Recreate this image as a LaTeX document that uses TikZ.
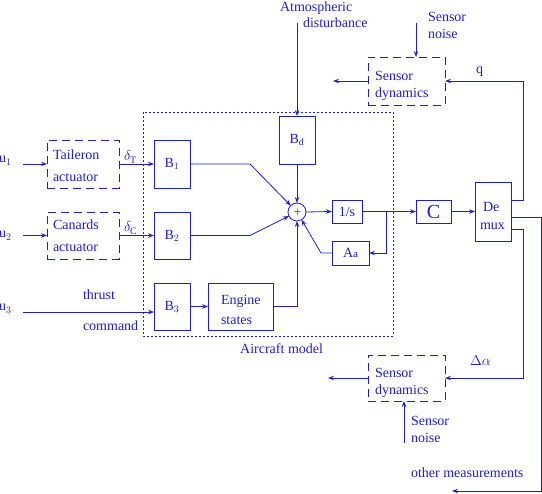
\documentclass[tikz,border=0pt]{standalone}
\usepackage{fontspec}
\setmainfont{Liberation Serif}
\usetikzlibrary{arrows.meta}
\definecolor{fig}{RGB}{30,30,205}
\begin{document}
\begin{tikzpicture}[x=1pt,y=-1pt,
  every node/.style={text=fig,font=\fontsize{14}{16}\selectfont,inner sep=0pt,outer sep=0pt},
  box/.style={draw=fig,line width=0.8pt,minimum width=#1},
  dbox/.style={draw=fig,line width=0.8pt,dash pattern=on 8pt off 5pt,minimum width=#1},
  lbl/.style={anchor=base west},
  wire/.style={draw=fig,line width=0.8pt},
  arr/.style={wire,-{Stealth[open,length=6pt,width=4.5pt]}}]
\useasboundingbox (0,0) rectangle (542,494);
% aircraft model dotted frame
\draw[fig,line width=0.8pt,dash pattern=on 1.6pt off 2.4pt] (143,112) rectangle (393,336);
\node[lbl,anchor=base east] (model) at (323,354) {Aircraft model};
% actuators
\node[dbox=72pt,minimum height=48pt] (tail) at (83,164) {};
\node[dbox=72pt,minimum height=47pt] (can) at (83,235.5) {};
\node[lbl] (tailA) at (53,160) {Taileron};
\node[lbl] (tailB) at (53,182) {actuator};
\node[lbl] (canA) at (53,230) {Canards};
\node[lbl] (canB) at (53,252) {actuator};
% inputs
\node[lbl] (u1) at (-1,163) {u$_1$};
\node[lbl] (u2) at (-1,238) {u$_2$};
\node[lbl] (u3) at (-1,311) {u$_3$};
\coordinate (c1) at (23,164);
\coordinate (c2) at (23,235.5);
\coordinate (c3) at (23,312);
\node[lbl] (thr) at (83,300) {thrust};
\node[lbl] (cmd) at (83,331) {command};
\node[lbl] (dT) at (124,161) {$\delta_{\mathrm T}$};
\node[lbl] (dC) at (124,232) {$\delta_{\mathrm C}$};
% B blocks
\node[box=36pt,minimum height=48pt] (B1) at (172,164) {B$_1$};
\node[box=36pt,minimum height=47pt] (B2) at (172,235.5) {B$_2$};
\node[box=36pt,minimum height=47pt] (B3) at (172,306.5) {B$_3$};
\node[box=65pt,minimum height=47pt] (eng) at (240.5,306.5) {};
\node[lbl] (engA) at (221,305) {Engine};
\node[lbl] (engB) at (221,325) {states};
\node[box=36pt,minimum height=48pt] (Bd) at (297,140) {B$_{\mathrm d}$};
\node[lbl] (atA) at (280,11.5) {Atmospheric};
\node[lbl] (atB) at (303,28) {disturbance};
\coordinate (at) at (297,23);
% summing junction
\node[draw=fig,line width=0.8pt,circle,minimum size=18pt] (sum) at (297,212) {};
\node[font=\fontsize{13}{14}\selectfont] (plus) at (297.5,212.5) {+};
\node[box=30pt,minimum height=23pt] (inv) at (347,211.5) {1/s};
\node[box=35pt,minimum height=23pt,font=\fontsize{20}{22}\selectfont] (C) at (433.5,211.5) {C};
\node[box=37pt,minimum height=24pt] (Aa) at (350.5,253) {A{\fontsize{11}{12}\selectfont a}};
\node[box=36pt,minimum height=59pt] (dmx) at (493,211.5) {};
\node[lbl] (dmA) at (483,212) {De};
\node[lbl] (dmB) at (480,230) {mux};
% sensors
\node[dbox=77pt,minimum height=48pt] (sd1) at (406.5,81) {};
\node[lbl] (sd1A) at (375,81) {Sensor};
\node[lbl] (sd1B) at (375,98) {dynamics};
\node[lbl] (sn1A) at (428,22) {Sensor};
\node[lbl] (sn1B) at (428,39) {noise};
\coordinate (n1) at (416,23);
\node[lbl] (q) at (476,74) {q};
\coordinate (o1) at (333,81);
\node[dbox=77pt,minimum height=46pt] (sd2) at (406.5,378) {};
\node[lbl] (sd2A) at (375,378) {Sensor};
\node[lbl] (sd2B) at (375,395) {dynamics};
\node[lbl] (sn2A) at (411,426) {Sensor};
\node[lbl] (sn2B) at (411,443) {noise};
\coordinate (n2) at (404,443);
\node[lbl] (da) at (470,366) {$\Delta\alpha$};
\coordinate (o2) at (328,378);
\node[lbl] (om) at (411,478) {other measurements};
\coordinate (o3) at (452,491);
% connectors
\draw[arr] (c1) -- (tail.west);
\draw[arr] (c2) -- (can.west);
\draw[arr] (tail.east) -- (B1.west);
\draw[arr] (can.east) -- (B2.west);
\draw[arr] (c3) -- (c3 -| B3.west);
\draw[arr] (B3.east) -- (eng.west);
\draw[arr] (eng.east) -| (sum.south);
\draw[arr] (at) -- (Bd.north);
\draw[arr] (Bd.south) -- (sum.north);
\coordinate (k1) at (250,164);
\coordinate (k2) at (250,235.5);
\coordinate (k3) at (321,253);
\draw[arr] (B1.east) -- (k1) -- (sum);
\draw[arr] (B2.east) -- (k2) -- (sum);
\draw[arr] (sum.east) -- (inv.west);
\draw[arr] (inv.east) -- (C.west);
\coordinate (br) at (386,211.5);
\draw[arr] (br) |- (Aa.east);
\draw[arr] (Aa.west) -- (k3) -- (sum);
\draw[arr] (C.east) -- (dmx.west);
\coordinate (d1) at (511,200);
\coordinate (d2) at (511,217);
\coordinate (d3) at (511,229);
\draw[arr] (d1) -- (523,200) |- (sd1.east);
\draw[arr] (sd1.west) -- (o1);
\draw[arr] (n1) -- (n1 |- sd1.north);
\draw[arr] (d2) -- (541,217) |- (o3);
\draw[arr] (d3) -- (523,229) |- (sd2.east);
\draw[arr] (sd2.west) -- (o2);
\draw[arr] (n2) -- (n2 |- sd2.south);
\end{tikzpicture}
\end{document}
